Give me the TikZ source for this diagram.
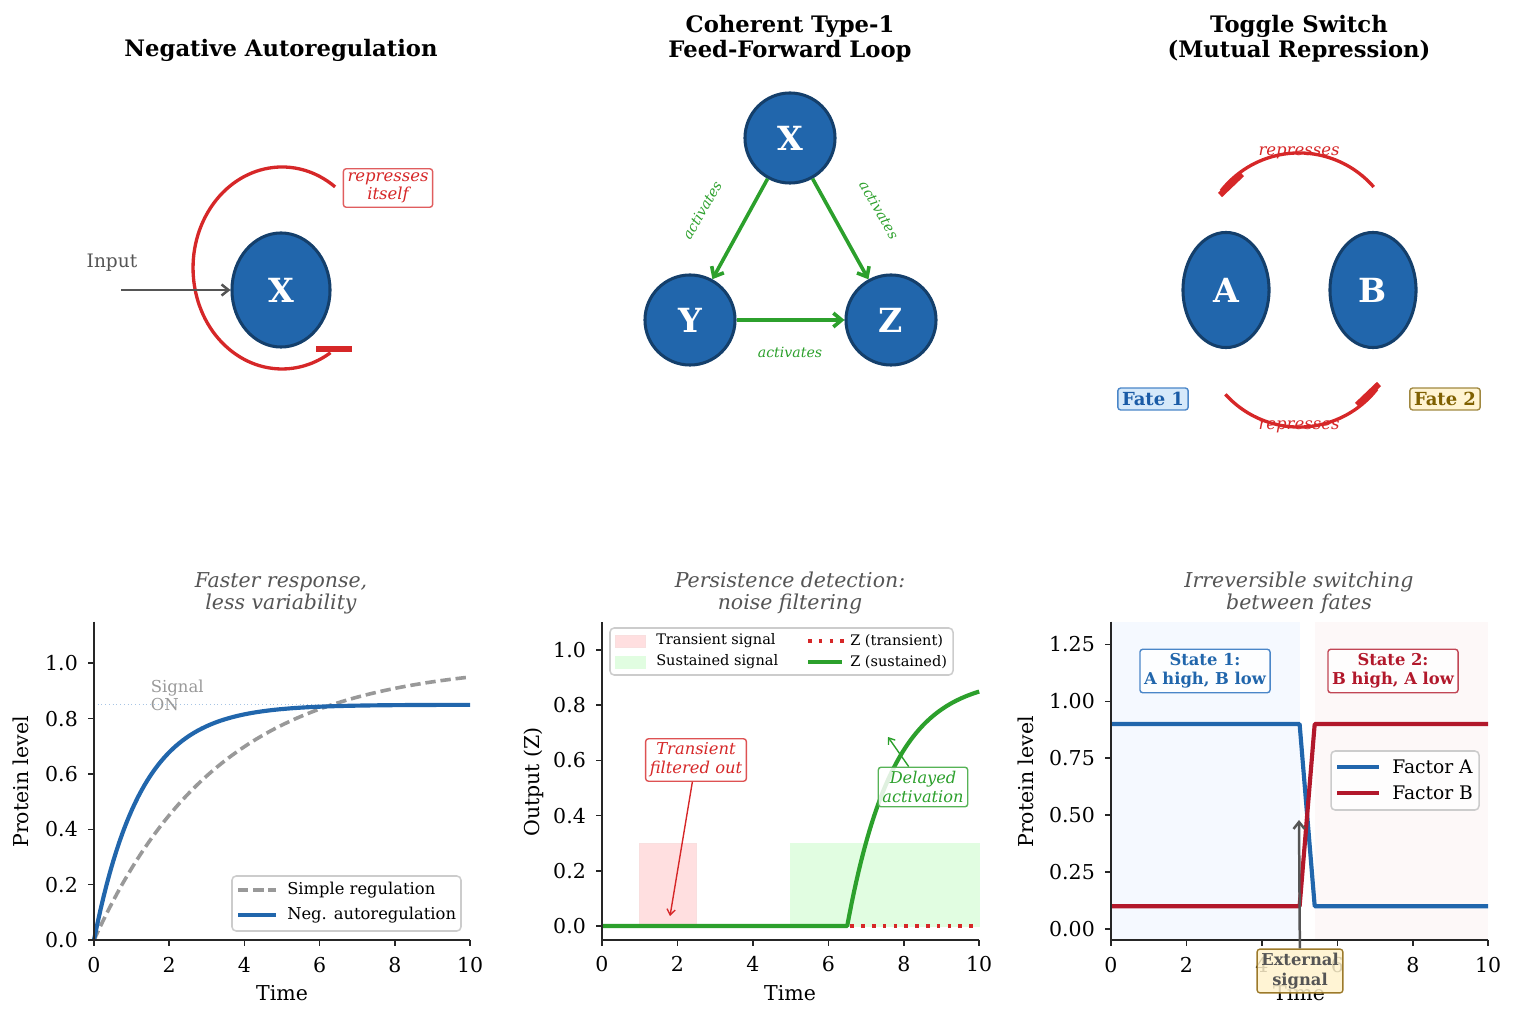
\documentclass[tikz,border=0pt]{standalone}
\usepackage{fontspec}
\setmainfont{DejaVu Serif}
\usetikzlibrary{shapes.geometric,arrows.meta}

\definecolor{genefill}{HTML}{2166AC}
\definecolor{geneedge}{HTML}{143F6B}
\definecolor{repred}{HTML}{D62728}
\definecolor{actgreen}{HTML}{2CA02C}
\definecolor{inkgray}{HTML}{555555}
\definecolor{simplegray}{HTML}{999999}
\definecolor{factorB}{HTML}{B2182B}
\definecolor{spinecol}{HTML}{262626}
\definecolor{fateonefill}{HTML}{D6E9FA}
\definecolor{fateoneedge}{HTML}{4A86C8}
\definecolor{fateonetext}{HTML}{1A5BA6}
\definecolor{fatetwofill}{HTML}{FFF4D2}
\definecolor{fatetwoedge}{HTML}{A08840}
\definecolor{fatetwotext}{HTML}{7F6000}
\definecolor{transfill}{HTML}{FFDFE0}
\definecolor{sustfill}{HTML}{E1FDE1}
\definecolor{sigon}{HTML}{A6C4E4}
\definecolor{bgone}{HTML}{F5F9FF}
\definecolor{bgtwo}{HTML}{FDF8F8}
\definecolor{extfill}{HTML}{FFF2CC}
\definecolor{extedge}{HTML}{9C7A2A}
\definecolor{legedge}{HTML}{CCCCCC}

\newcommand{\titlefont}{\fontsize{16.4}{18}\selectfont\bfseries}
\newcommand{\subfont}{\fontsize{14.8}{15.8}\selectfont\itshape}
\newcommand{\tickfont}{\fontsize{14.8}{16}\selectfont}
\newcommand{\genefont}{\fontsize{24}{28}\selectfont\bfseries}
\newcommand{\notefont}{\fontsize{11.9}{13}\selectfont\itshape}
\newcommand{\boxfont}{\fontsize{11.8}{14}\selectfont}

\tikzset{
  gene/.style={ellipse, draw=geneedge, fill=genefill, line width=2.2pt,
    text=white, font=\genefont, inner sep=0pt},
  ffnode/.style={circle, draw=geneedge, fill=genefill, line width=2.2pt,
    text=white, font=\genefont, minimum size=0.9in, inner sep=0pt},
  act/.style={actgreen, line width=2.6pt, -{Straight Barb[length=6pt,width=10pt]}},
  actlabel/.style={text=actgreen, font=\fontsize{10.2}{11}\selectfont\itshape},
  rep/.style={repred, line width=2.4pt},
  repbar/.style={repred, line width=4.3pt},
  inarrow/.style={inkgray, line width=1.8pt, -{Straight Barb[length=5pt,width=8pt]}},
  notebox/.style={rounded corners=2pt, fill=white, fill opacity=0.85, text opacity=1,
    line width=1pt, font=\notefont, align=center, inner sep=3pt},
  fatebox/.style={rounded corners=2pt, line width=1pt, font=\fontsize{13}{14}\selectfont\bfseries,
    inner sep=3pt},
  axspine/.style={draw=spinecol, line width=1.4pt},
  axtick/.style={draw=spinecol, line width=1.1pt},
  ticklab/.style={font=\tickfont, inner sep=0pt},
  legbox/.style={draw=legedge, line width=1.1pt, rounded corners=3pt, fill=white, fill opacity=0.8},
  subttl/.style={text=inkgray, font=\subfont, align=center},
}

\begin{document}
\begin{tikzpicture}[x=0.01in, y=-0.01in]
\useasboundingbox (0,0) rectangle (1517,1019);

% Panel titles
\node[font=\titlefont, anchor=base] (ttlA) at (281,57) {Negative Autoregulation};
\node[font=\titlefont, align=center] (ttlB) at (790,39) {Coherent Type-1\\Feed-Forward Loop};
\node[font=\titlefont, align=center] (ttlC) at (1299,39) {Toggle Switch\\(Mutual Repression)};

% Negative autoregulation motif
\node[gene, minimum width=0.98in, minimum height=1.14in] (naX) at (281,290) {X};
\coordinate (loopS) at (335.1,186.9);
\draw[rep] (loopS) arc[start angle=-53.4, end angle=-303, x radius=89, y radius=101];
\coordinate (barL) at (316,349);
\coordinate (barR) at (352,349);
\draw[repbar] (barL) -- (barR);
\node[notebox, draw=repred!75, text=repred] (naNote) at (388,188) {represses\\itself};
\node[text=inkgray, font=\fontsize{13.4}{14}\selectfont] (inLab) at (112,263) {Input};
\coordinate (inS) at (121,290);
\draw[inarrow] (inS) -- (naX);

% Feed-forward loop
\node[ffnode] (ffX) at (790,138) {X};
\node[ffnode] (ffY) at (690,320) {Y};
\node[ffnode] (ffZ) at (891,320) {Z};
\draw[act] (ffX) -- (ffY);
\draw[act] (ffX) -- (ffZ);
\draw[act] (ffY) -- (ffZ);
\node[actlabel, rotate=60] (lXY) at (702,210) {activates};
\node[actlabel, rotate=-60] (lXZ) at (879,210) {activates};
\node[actlabel] (lYZ) at (790,352) {activates};

% Toggle switch
\node[gene, minimum width=0.86in, minimum height=1.15in] (tgA) at (1226,290) {A};
\node[gene, minimum width=0.86in, minimum height=1.15in] (tgB) at (1373,290) {B};
\coordinate (topS) at (1373.7,187);
\draw[rep] (topS) arc[start angle=-41, end angle=-142, radius=99];
\coordinate (topT1) at (1220,195);
\coordinate (topT2) at (1242,174);
\draw[repbar] (topT1) -- (topT2);
\coordinate (botS) at (1225.4,394.3);
\draw[rep] (botS) arc[start angle=138, end angle=38, radius=99];
\coordinate (botT1) at (1357,405);
\coordinate (botT2) at (1379,384);
\draw[repbar] (botT1) -- (botT2);
\node[text=repred, font=\notefont] (repTop) at (1299,153) {represses};
\node[text=repred, font=\notefont] (repBot) at (1299,427) {represses};
\node[fatebox, fill=fateonefill, draw=fateoneedge, text=fateonetext] (fate1) at (1153,399) {Fate 1};
\node[fatebox, fill=fatetwofill, draw=fatetwoedge, text=fatetwotext] (fate2) at (1445,399) {Fate 2};

% Subtitles of the plots
\node[subttl] (subA) at (281,593) {Faster response,\\less variability};
\node[subttl] (subB) at (790,593) {Persistence detection:\\noise filtering};
\node[subttl] (subC) at (1299,593) {Irreversible switching\\between fates};

% Plot 1: response time
\begin{scope}[shift={(94,940)}, x=0.376in, y=2.766in]
  \draw[sigon, line width=0.7pt, dotted] (0,0.85) -- (10,0.85);
  \draw[simplegray, line width=2.6pt, dash pattern=on 7.5pt off 3.5pt]
    plot[domain=0:10, samples=80] (\x,{1-exp(-0.3*\x)});
  \draw[genefill, line width=3pt]
    plot[domain=0:10, samples=120] (\x,{0.85*(1-exp(-0.8*\x))});
  \draw[axspine] (0,1.15) -- (0,0) -- (10,0);
  \foreach \v in {0.0,0.2,0.4,0.6,0.8,1.0} {
    \draw[axtick] (0,\v) -- ++(-4.3pt,0pt);
    \node[ticklab, anchor=east, xshift=-11.5pt] at (0,\v) {\v};
  }
  \foreach \v in {0,2,4,6,8,10} {
    \draw[axtick] (\v,0) -- ++(0pt,-4.3pt);
    \node[ticklab, anchor=north, yshift=-12pt] at (\v,0) {\v};
  }
\end{scope}
\node[text=simplegray, font=\fontsize{11.9}{13}\selectfont, align=left, anchor=west] (sigLab) at (146,695) {Signal\\ON};
\node[ticklab, anchor=base] (xlabA) at (282,1000) {Time};
\node[ticklab, rotate=90, anchor=base] (ylabA) at (29,782) {Protein level};
\draw[legbox] (232,876) rectangle (461,931);
\draw[simplegray, line width=2.6pt, dash pattern=on 7.5pt off 3.5pt] (238,890) -- (276,890);
\draw[genefill, line width=3pt] (238,915) -- (276,915);
\node[font=\fontsize{11.8}{13}\selectfont, anchor=west, inner sep=0pt] (legA1) at (287,890) {Simple regulation};
\node[font=\fontsize{11.8}{13}\selectfont, anchor=west, inner sep=0pt] (legA2) at (287,915) {Neg. autoregulation};

% Plot 2: persistence detection
\begin{scope}[shift={(602,926)}, x=0.377in, y=2.76in]
  \draw[fill=transfill, draw=repred!15] (1,0) rectangle (2.5,0.3);
  \draw[fill=sustfill, draw=sustfill] (5,0) rectangle (10,0.3);
  \draw[repred, line width=2.4pt, dash pattern=on 2.6pt off 5.2pt] (0,0) -- (10,0);
  \draw[actgreen, line width=3pt, line join=round] (0,0) -- (6.5,0)
    -- plot[domain=6.5:10, samples=60] (\x,{0.9*(1-exp(-0.82*(\x-6.5)))});
  \draw[axspine] (0,1.1) -- (0,-0.05) -- (10,-0.05);
  \foreach \v in {0.0,0.2,0.4,0.6,0.8,1.0} {
    \draw[axtick] (0,\v) -- ++(-4.3pt,0pt);
    \node[ticklab, anchor=east, xshift=-11.5pt] at (0,\v) {\v};
  }
  \foreach \v in {0,2,4,6,8,10} {
    \draw[axtick] (\v,-0.05) -- ++(0pt,-4.3pt);
    \node[ticklab, anchor=north, yshift=-12pt] at (\v,-0.05) {\v};
  }
\end{scope}
\node[ticklab, anchor=base] (xlabB) at (790,1000) {Time};
\node[ticklab, rotate=90, anchor=base] (ylabB) at (539,782) {Output (Z)};
\draw[legbox] (610,628) rectangle (953,675);
\draw[fill=transfill, draw=repred!15] (615,635) rectangle (645,647);
\draw[fill=sustfill, draw=sustfill] (615,656) rectangle (645,668);
\draw[repred, line width=2.4pt, dash pattern=on 2.6pt off 5.2pt] (808,641) -- (844,641);
\draw[actgreen, line width=3pt] (808,662) -- (842,662);
\node[font=\fontsize{10.5}{11}\selectfont, anchor=west, inner sep=0pt] (legB1) at (656,641) {Transient signal};
\node[font=\fontsize{10.5}{11}\selectfont, anchor=west, inner sep=0pt] (legB2) at (656,662) {Sustained signal};
\node[font=\fontsize{10.5}{11}\selectfont, anchor=west, inner sep=0pt] (legB3) at (850,641) {Z (transient)};
\node[font=\fontsize{10.5}{11}\selectfont, anchor=west, inner sep=0pt] (legB4) at (850,662) {Z (sustained)};
\node[notebox, draw=repred!80, text=repred, font=\fontsize{11.8}{13.5}\selectfont\itshape] (trNote) at (696,760) {Transient\\filtered out};
\coordinate (trTip) at (670,916);
\draw[repred, line width=1pt, -{Straight Barb[length=4pt,width=6pt]}] (trNote) -- (trTip);
\node[notebox, draw=actgreen!80, text=actgreen, font=\fontsize{11.7}{13.5}\selectfont\itshape] (dlNote) at (923,787) {Delayed\\activation};
\coordinate (dlTip) at (888,737);
\draw[actgreen, line width=1pt, -{Straight Barb[length=4pt,width=6pt]}] (dlNote) -- (dlTip);

% Plot 3: toggle switching
\begin{scope}[shift={(1111,929)}, x=0.377in, y=2.276in]
  \fill[bgone] (0,-0.05) rectangle (5,1.35);
  \fill[bgtwo] (5.4,-0.05) rectangle (10,1.35);
  \draw[genefill, line width=3pt, line join=round] (0,0.9) -- (5,0.9) -- (5.4,0.1) -- (10,0.1);
  \draw[factorB, line width=3pt, line join=round] (0,0.1) -- (5,0.1) -- (5.4,0.9) -- (10,0.9);
  \draw[axspine] (0,1.35) -- (0,-0.05) -- (10,-0.05);
  \foreach \v in {0.00,0.25,0.50,0.75,1.00,1.25} {
    \draw[axtick] (0,\v) -- ++(-4.3pt,0pt);
    \node[ticklab, anchor=east, xshift=-11.5pt] at (0,\v) {\v};
  }
  \foreach \v in {0,2,4,6,8,10} {
    \draw[axtick] (\v,-0.05) -- ++(0pt,-4.3pt);
    \node[ticklab, anchor=north, yshift=-12pt] at (\v,-0.05) {\v};
  }
\end{scope}
\node[ticklab, anchor=base] (xlabC) at (1299,1000) {Time};
\node[ticklab, rotate=90, anchor=base] (ylabC) at (1033,782) {Protein level};
\node[notebox, draw=fateoneedge, text=genefill, font=\boxfont\bfseries] (st1) at (1205,671) {State 1:\\A high, B low};
\node[notebox, draw=factorB!80, text=factorB, font=\boxfont\bfseries] (st2) at (1393,671) {State 2:\\B high, A low};
\draw[legbox] (1331,751) rectangle (1479,810);
\draw[genefill, line width=3pt] (1337,767) -- (1379,767);
\draw[factorB, line width=3pt] (1337,793) -- (1379,793);
\node[font=\fontsize{13.5}{14}\selectfont, anchor=west, inner sep=0pt] (legC1) at (1392,767) {Factor A};
\node[font=\fontsize{13.5}{14}\selectfont, anchor=west, inner sep=0pt] (legC2) at (1392,793) {Factor B};
\node[notebox, fill=extfill, draw=extedge, text=inkgray, font=\boxfont\bfseries] (extNote) at (1300,971) {External\\signal};
\coordinate (extTip) at (1299,820);
\draw[inarrow] (extNote) -- (extTip);
\end{tikzpicture}
\end{document}
